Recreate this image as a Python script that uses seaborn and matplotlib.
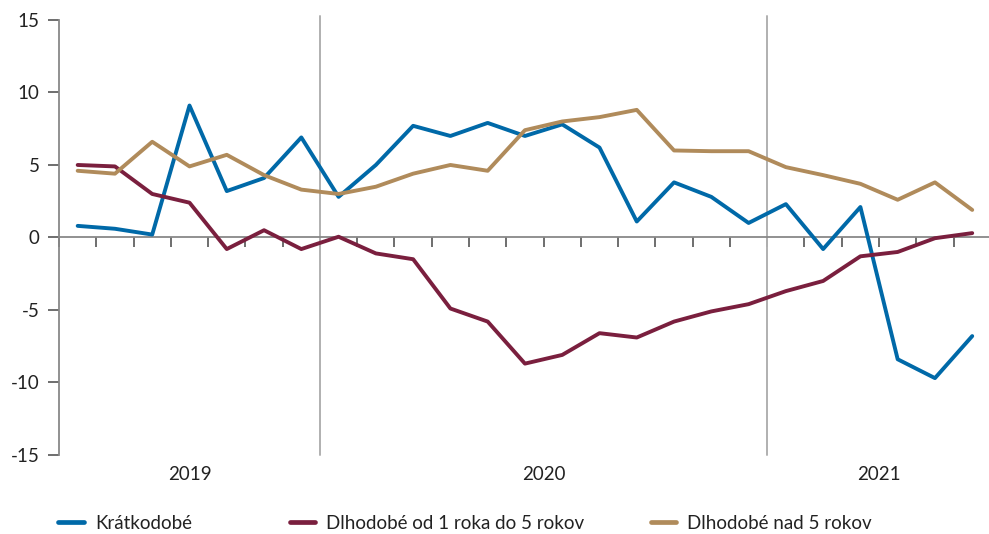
import numpy as np
import pandas as pd
import matplotlib
matplotlib.use("Agg")
import matplotlib.pyplot as plt
import matplotlib.transforms as mtransforms
from matplotlib.lines import Line2D
import seaborn as sns

# monthly data, Jun 2019 - Jun 2021
kratkodobe = [0.8, 0.6, 0.2, 9.1, 3.2, 4.1, 6.9, 2.8, 5.0, 7.7, 7.0, 7.9, 7.0, 7.8,
              6.2, 1.1, 3.8, 2.8, 1.0, 2.3, -0.8, 2.1, -8.4, -9.7, -6.8]
od1do5 = [5.0, 4.9, 3.0, 2.4, -0.8, 0.5, -0.8, 0.05, -1.1, -1.5, -4.9, -5.8, -8.7, -8.1,
          -6.6, -6.9, -5.8, -5.1, -4.6, -3.7, -3.0, -1.3, -1.0, -0.05, 0.3]
nad5 = [4.6, 4.4, 6.6, 4.9, 5.7, 4.3, 3.3, 3.0, 3.5, 4.4, 5.0, 4.6, 7.4, 8.0,
        8.3, 8.8, 6.0, 5.95, 5.95, 4.85, 4.3, 3.7, 2.6, 3.8, 1.9]

series_names = ["Krátkodobé", "Dlhodobé od 1 roka do 5 rokov", "Dlhodobé nad 5 rokov"]
colors = ["#0069A8", "#7A1F3E", "#B08B5B"]
years = ["2019", "2020", "2021"]
months_per_year = [7, 12, 6]

n = len(kratkodobe)
df = pd.DataFrame({
    "mesiac": list(range(n)) * 3,
    "hodnota": kratkodobe + od1do5 + nad5,
    "séria": [series_names[0]] * n + [series_names[1]] * n + [series_names[2]] * n,
})

sns.set_style("white")
plt.rcParams["font.family"] = ["Lato", "DejaVu Sans"]
plt.rcParams["axes.unicode_minus"] = False

fig = plt.figure(figsize=(9.89, 5.34), dpi=100)
ax = fig.add_axes([0.0597, 0.148, 0.9403, 0.8146])

# year separators
bounds = np.cumsum(months_per_year)[:-1] - 0.5
for b in bounds:
    ax.plot([b, b], [-15, 15.3], color="#b0b0b0", lw=1.4, clip_on=False, zorder=1)

sns.lineplot(data=df, x="mesiac", y="hodnota", hue="séria", palette=colors,
             linewidth=2.8, legend=False, ax=ax, zorder=3)

ax.set_xlim(-0.5, 24.45)
ax.set_ylim(-15, 15)
ax.set_yticks([-15, -10, -5, 0, 5, 10, 15])
ax.set_xlabel("")
ax.set_ylabel("")

for s in ["top", "right"]:
    ax.spines[s].set_visible(False)
ax.spines["left"].set_color("#888888")
ax.spines["left"].set_linewidth(1.3)
ax.spines["bottom"].set_position(("data", 0))
ax.spines["bottom"].set_color("#888888")
ax.spines["bottom"].set_linewidth(1.3)
ax.spines["bottom"].set_zorder(2)

ax.set_xticks(np.arange(-0.5, 24.5, 1.0))
ax.set_xticklabels([])
ax.tick_params(axis="x", bottom=True, direction="out", length=7, width=1.2, color="#555555")
ax.tick_params(axis="y", left=True, direction="out", length=8, width=1.2, color="#555555",
               labelsize=13.5, labelcolor="#222222", pad=6)

# year labels
trans = mtransforms.blended_transform_factory(ax.transData, ax.transAxes)
start = 0
for y, m in zip(years, months_per_year):
    ax.text(start + (m - 1) / 2, -0.045, y, transform=trans, ha="center", va="center",
            fontsize=13.5, color="#222222")
    start += m

# legend
legend_x = [0.059, 0.293, 0.658]
for name, c, lx in zip(series_names, colors, legend_x):
    h = Line2D([], [], color=c, lw=3.4)
    lg = fig.legend(handles=[h], labels=[name], loc="center left",
                    bbox_to_anchor=(lx, 0.02), frameon=False, fontsize=13.5,
                    handlelength=1.35, handletextpad=0.6, borderaxespad=0,
                    borderpad=0)
    for t in lg.get_texts():
        t.set_color("#222222")

fig.savefig("out.png", dpi=100)
